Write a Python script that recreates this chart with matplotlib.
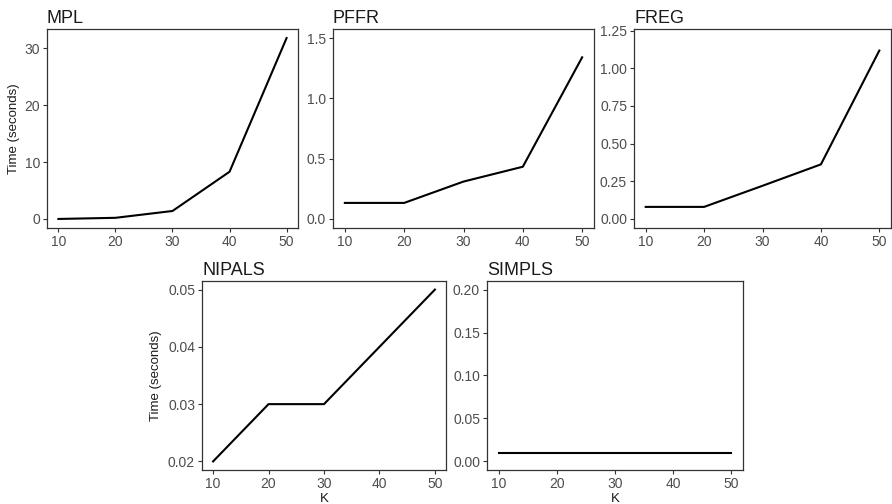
import matplotlib
matplotlib.use("Agg")
import matplotlib.pyplot as plt

plt.rcParams['font.family'] = ['Liberation Sans', 'DejaVu Sans']

# K values shared by every panel
k = [10, 20, 30, 40, 50]

# run times in seconds
t_mpl = [0.0, 0.2, 1.4, 8.3, 31.8]
t_pffr = [0.133, 0.133, 0.31, 0.433, 1.34]
t_freg = [0.08, 0.08, 0.22, 0.362, 1.117]
t_nipals = [0.02, 0.03, 0.03, 0.04, 0.05]
t_simpls = [0.01, 0.01, 0.01, 0.01, 0.01]

titles = ["MPL", "PFFR", "FREG", "NIPALS", "SIMPLS"]
series = [t_mpl, t_pffr, t_freg, t_nipals, t_simpls]
yticks = [[0, 10, 20, 30],
          [0.0, 0.5, 1.0, 1.5],
          [0.0, 0.25, 0.5, 0.75, 1.0, 1.25],
          [0.02, 0.03, 0.04, 0.05],
          [0.0, 0.05, 0.10, 0.15, 0.20]]
yfmt = ["{:.0f}", "{:.1f}", "{:.2f}", "{:.2f}", "{:.2f}"]
ylims = [None, (-0.075, 1.575), (-0.06, 1.26), None, (-0.01, 0.21)]

W, H = 892, 504
# panel boxes in pixels: left, top, right, bottom
boxes = [(47, 29, 298, 228),
         (333, 29, 594, 228),
         (634, 29, 891, 228),
         (202, 281, 446, 470),
         (487, 281, 743, 470)]

fig = plt.figure(figsize=(W / 100, H / 100), dpi=100)
grey = '#333333'

for i in range(5):
    l, t, r, b = boxes[i]
    ax = fig.add_axes([l / W, (H - b) / H, (r - l) / W, (b - t) / H])
    ax.plot(k, series[i], color='black', lw=1.5)
    ax.set_xlim(8, 52)
    ax.set_xticks(k)
    if ylims[i] is not None:
        ax.set_ylim(*ylims[i])
    ax.set_yticks(yticks[i])
    ax.set_yticklabels([yfmt[i].format(v) for v in yticks[i]])
    for s in ax.spines.values():
        s.set_color(grey)
        s.set_linewidth(0.9)
    ax.tick_params(direction='out', length=3, width=0.8, color=grey,
                   labelsize=10, labelcolor='#4d4d4d', pad=2)
    ax.set_title(titles[i], loc='left', fontsize=13, pad=4, color='#1a1a1a')
    if i == 0:
        ax.set_ylabel("Time (seconds)", fontsize=9.5, color='#1a1a1a')
        ax.yaxis.set_label_coords(-0.108, 0.5)
    if i == 3:
        ax.set_ylabel("Time (seconds)", fontsize=9.5, color='#1a1a1a')
        ax.yaxis.set_label_coords(-0.164, 0.5)
    if i >= 3:
        ax.set_xlabel("K", fontsize=9.5, color='#1a1a1a')
        ax.xaxis.set_label_coords(0.5, -0.12)

fig.savefig("out.png", dpi=100)
